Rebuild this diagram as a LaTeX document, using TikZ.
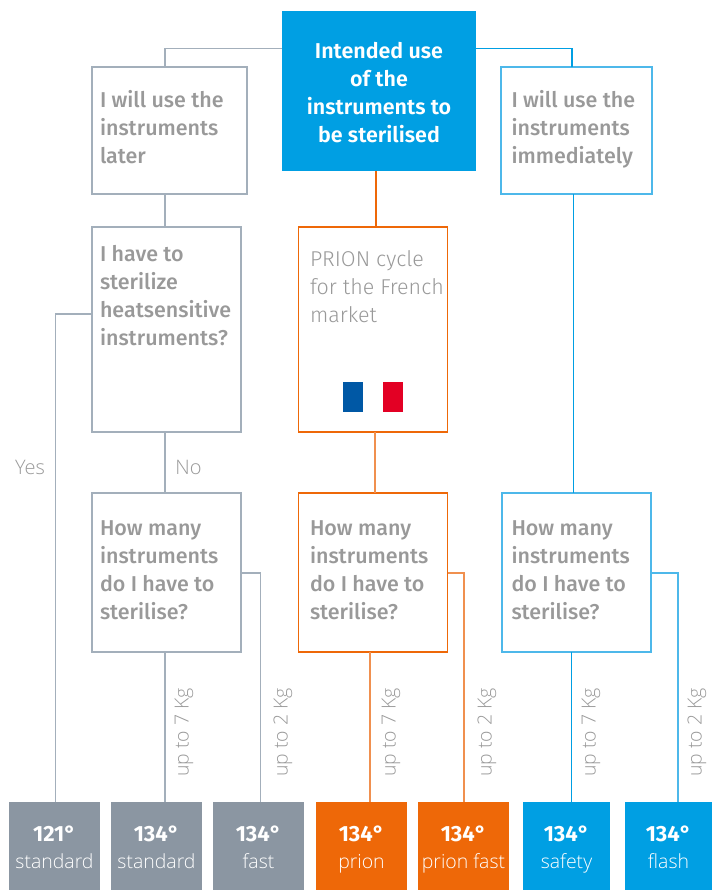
\documentclass[tikz,border=0pt]{standalone}
\usepackage{fontspec}
\usepackage{graphicx}
\setmainfont{Fira Sans}
\newfontfamily\lightf{Open Sans Light}
\newfontfamily\medf{Fira Sans Medium}
\newfontfamily\semif{Fira Sans SemiBold}
\newfontfamily\firal{Fira Sans Light}
\definecolor{gbox}{HTML}{8B96A2}
\definecolor{gline}{HTML}{A3AFBB}
\definecolor{obox}{HTML}{EE6808}
\definecolor{oline}{HTML}{F0904F}
\definecolor{bbox}{HTML}{009FE3}
\definecolor{bline}{HTML}{4DB8EA}
\definecolor{txt}{HTML}{999999}
\definecolor{flagb}{HTML}{0058A5}
\definecolor{flagr}{HTML}{E30024}
\newcommand{\qfont}{\fontsize{16.1}{21}\selectfont}
\usetikzlibrary{calc}
\tikzset{
  x=0.75pt,y=-0.75pt,
  box/.style={draw,line width=1.0pt,minimum width=#1*0.75pt,inner sep=0,outer sep=0,anchor=north west},
  lab/.style={anchor=north west,inner sep=0,outer sep=0,align=left,text=txt,font=\medf\qfont},
  res/.style={anchor=north west,inner sep=0,outer sep=0,text=white,align=center,minimum height=66pt,text width=#1*0.75pt},
  lnk/.style={line width=1.0pt},
  kg/.style={inner sep=0,text=txt,font=\lightf\fontsize{14.6}{16}\selectfont},
  side/.style={inner sep=0,text=txt,font=\lightf\fontsize{15}{16}\selectfont}
}
\newcommand{\resnode}[6]{% name x width colour deg sub
  \node[res=#3,fill=#4] (#1) at (#2,802) {};
  \node[anchor=base,inner sep=0,text=white,font=\fontsize{16.5}{19}\selectfont\bfseries] (#1d) at ($(#1.north)+(0,39)$) {#5};
  \node[anchor=base,inner sep=0,text=white,font=\lightf\fontsize{14.6}{16}\selectfont] (#1s) at ($(#1.north)+(0,66)$) {#6};
}
\begin{document}
\begin{tikzpicture}
\useasboundingbox (0,0) rectangle (716,890);
% boxes
\node[box=194,minimum height=120pt,fill=bbox,draw=none] (top) at (282,11) {};
\node[anchor=north,inner sep=0,outer sep=0,align=center,text=white,font=\semif\qfont] (toptext) at (379,42) {Intended use\\of the\\instruments to\\be sterilised};
\node[box=155,minimum height=95.25pt,draw=gline] (later) at (92,67) {};
\node[lab] (latert) at (100,90) {I will use the\\instruments\\later};
\node[box=149,minimum height=153.75pt,draw=gline] (heat) at (92,227) {};
\node[lab] (heatt) at (100,245) {I have to\\sterilize\\heatsensitive\\instruments?};
\node[box=149,minimum height=119.25pt,draw=gline] (how1) at (92,493) {};
\node[lab] (how1t) at (100,521) {How many\\instruments\\do I have to\\sterilise?};
\node[box=149,minimum height=153.75pt,draw=obox] (prion) at (298.5,227) {};
\node[lab,font=\firal\qfont] (priont) at (310,251) {PRION cycle\\for the French\\market};
\fill[flagb] (343,382) rectangle (363,412);
\fill[flagr] (383,382) rectangle (403,412);
\node[box=149,minimum height=119.25pt,draw=obox] (how2) at (298.5,493) {};
\node[lab] (how2t) at (310,521) {How many\\instruments\\do I have to\\sterilise?};
\node[box=151,minimum height=95.25pt,draw=bline] (imm) at (501,67) {};
\node[lab] (immt) at (511.5,90) {I will use the\\instruments\\immediately};
\node[box=149,minimum height=119.25pt,draw=bline] (how3) at (502,493) {};
\node[lab] (how3t) at (511.5,521) {How many\\instruments\\do I have to\\sterilise?};
% results
\resnode{ra}{9}{91}{gbox}{121°}{standard}
\resnode{rb}{111}{91}{gbox}{134°}{standard}
\resnode{rc}{213}{91}{gbox}{134°}{fast}
\resnode{rd}{316}{91}{obox}{134°}{prion}
\resnode{re}{418}{91}{obox}{134°}{prion fast}
\resnode{rf}{523}{87}{bbox}{134°}{safety}
\resnode{rg}{625}{87}{bbox}{134°}{flash}
% connectors
\draw[lnk,gline] (top.west |- 0,48.5) -| (later.north -| 165,0);
\draw[lnk,gline] (later.south -| 165,0) -- (heat.north -| 165,0);
\draw[lnk,gline] (heat.south -| 165,0) -- (how1.north -| 165,0);
\draw[lnk,gline] (heat.west |- 0,314) -| (ra.north -| 55.5,0);
\draw[lnk,gline] (how1.south -| 165,0) -- (rb.north -| 165,0);
\draw[lnk,gline] (how1.east |- 0,573) -| (rc.north -| 260.5,0);
\draw[lnk,obox] (top.south -| 376,0) -- (prion.north -| 376,0);
\draw[lnk,oline] (prion.south -| 375,0) -- (how2.north -| 375,0);
\draw[lnk,oline] (how2.south -| 370,0) -- (rd.north -| 370,0);
\draw[lnk,oline] (how2.east |- 0,573) -| (re.north -| 464,0);
\draw[lnk,bbox] (top.east |- 0,48.5) -| (imm.north -| 572,0);
\draw[lnk,bbox] (imm.south -| 573.5,0) -- (how3.north -| 573.5,0);
\draw[lnk,bbox] (how3.south -| 571.5,0) -- (rf.north -| 571.5,0);
\draw[lnk,bline] (how3.east |- 0,573) -| (rg.north -| 678,0);
% labels
\node[side] (yes) at (30,467) {Yes};
\node[side] (no) at (188.5,467) {No};
\foreach \n/\x/\t in {ka/184/up to 7 Kg,kb/283/up to 2 Kg,kc/391/up to 7 Kg,kd/487/up to 2 Kg,ke/591/up to 7 Kg,kf/697/up to 2 Kg}
  \node[kg,anchor=south] (\n) at (\x,777) {\rotatebox{90}{\t}};
\end{tikzpicture}
\end{document}
